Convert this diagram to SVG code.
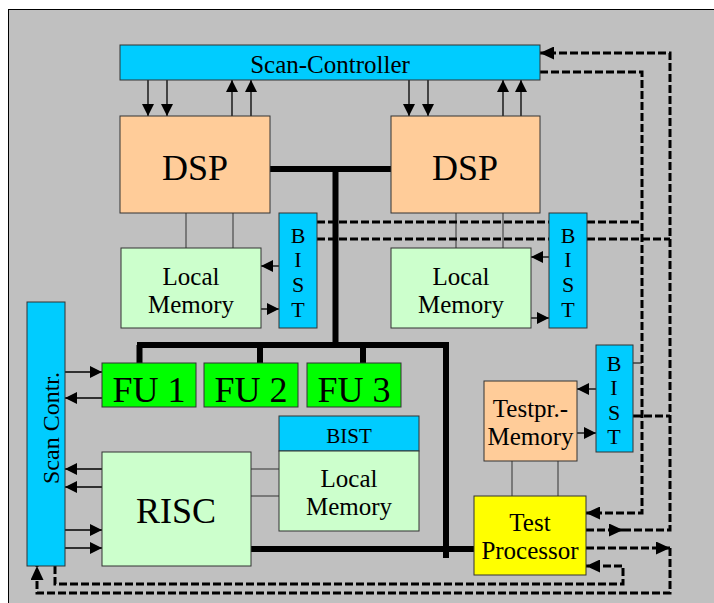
<svg xmlns="http://www.w3.org/2000/svg" width="714" height="603" viewBox="0 0 714 603">
<style>
.box{stroke:#333;stroke-width:1}
.cyan{fill:#00ccff}
.dsp{fill:#ffcc99}
.lm{fill:#ccffcc}
.fu{fill:#00ff00}
.tp{fill:#ffff00}
.t{font-family:"Liberation Serif","Times New Roman",serif;fill:#000;text-anchor:middle}
.big{font-size:36px}
.mid{font-size:25px}
.sm{font-size:22px}
.bus{stroke:#000;stroke-width:6;fill:none}
.thin{stroke:#333;stroke-width:1;fill:none}
.arr{stroke:#000;stroke-width:1.3;fill:none;marker-end:url(#a)}
.dash{stroke:#000;stroke-width:3;fill:none;stroke-dasharray:8 3}
.dasharr{stroke:#000;stroke-width:3;fill:none;stroke-dasharray:8 3;marker-end:url(#da)}
</style>
<defs>
<marker id="a" markerUnits="userSpaceOnUse" markerWidth="12" markerHeight="12" viewBox="0 0 12 12" refX="12" refY="6" orient="auto">
<path d="M0,0 L12,6 L0,12 z" fill="#000"/>
</marker>
<marker id="da" markerUnits="userSpaceOnUse" markerWidth="14" markerHeight="13" viewBox="0 0 14 13" refX="14" refY="6.5" orient="auto">
<path d="M0,0 L14,6.5 L0,13 z" fill="#000"/>
</marker>
</defs>
<rect x="8.5" y="9.5" width="710" height="600" fill="#c0c0c0" stroke="#000" stroke-width="1"/>

<g id="connectors">
<!-- buses -->
<path class="bus" d="M269,169 H391 M335.5,169 V345 M137,345 H449 M139.5,345 V363 M260,345 V363 M363,345 V363 M446,342 V558 M251,549 H474"/>
<!-- thin links -->
<path class="thin" d="M186,213 V248 M233,213 V248 M456,213 V248 M503,213 V248 M512,461 V496 M558,461 V496 M251,469 H279 M251,496 H279"/>
<!-- scan-controller arrows -->
<line class="arr" x1="148" y1="80" x2="148" y2="116"/>
<line class="arr" x1="167" y1="80" x2="167" y2="116"/>
<line class="arr" x1="232" y1="116" x2="232" y2="80"/>
<line class="arr" x1="251" y1="116" x2="251" y2="80"/>
<line class="arr" x1="409" y1="80" x2="409" y2="116"/>
<line class="arr" x1="428" y1="80" x2="428" y2="116"/>
<line class="arr" x1="503" y1="116" x2="503" y2="80"/>
<line class="arr" x1="521" y1="116" x2="521" y2="80"/>
<!-- left scan contr arrows -->
<line class="arr" x1="65" y1="372" x2="102" y2="372"/>
<line class="arr" x1="102" y1="398" x2="65" y2="398"/>
<line class="arr" x1="102" y1="469" x2="65" y2="469"/>
<line class="arr" x1="102" y1="487" x2="65" y2="487"/>
<line class="arr" x1="65" y1="530" x2="102" y2="530"/>
<line class="arr" x1="65" y1="548" x2="102" y2="548"/>
<!-- BIST arrows -->
<line class="arr" x1="279" y1="266" x2="261" y2="266"/>
<line class="arr" x1="261" y1="309" x2="279" y2="309"/>
<line class="arr" x1="549" y1="257" x2="531" y2="257"/>
<line class="arr" x1="531" y1="318" x2="549" y2="318"/>
<line class="arr" x1="596" y1="389" x2="577" y2="389"/>
<line class="arr" x1="577" y1="433" x2="596" y2="433"/>
<!-- dashed test network -->
<path class="dash" d="M317,222 H549 M587,222 H642 M317,239 H549 M587,239 H670 M633,416 H670"/>
<path class="thin" d="M633,363 H642" style="stroke:#000"/>
<path class="dasharr" d="M540,72 H642 V513 H586"/>
<path class="dasharr" d="M586,530 H623"/>
<path class="dasharr" d="M623,530 H670 V53 H540"/>
<path class="dasharr" d="M586,548 H670"/>
<path class="dasharr" d="M670,548 V593 H37 V566"/>
<path class="dasharr" d="M55,566 V584 H623 V566 H586"/>
</g>

<g id="scan-controller">
<rect class="box cyan" x="120" y="45" width="420" height="35"/>
<text class="t mid" x="330" y="73">Scan-Controller</text>
</g>
<g id="dsp1">
<rect class="box dsp" x="120" y="116" width="150" height="97"/>
<text class="t big" x="195" y="180">DSP</text>
</g>
<g id="dsp2">
<rect class="box dsp" x="391" y="116" width="149" height="97"/>
<text class="t big" x="465" y="180">DSP</text>
</g>
<g id="local-memory1">
<rect class="box lm" x="121" y="248" width="140" height="80"/>
<text class="t mid" x="191" y="285">Local</text>
<text class="t mid" x="191" y="313">Memory</text>
</g>
<g id="bist1">
<rect class="box cyan" x="279" y="213" width="38" height="115"/>
<text class="t sm" x="298" y="243">B</text>
<text class="t sm" x="298" y="267">I</text>
<text class="t sm" x="298" y="292">S</text>
<text class="t sm" x="298" y="317">T</text>
</g>
<g id="local-memory2">
<rect class="box lm" x="391" y="248" width="140" height="80"/>
<text class="t mid" x="461" y="285">Local</text>
<text class="t mid" x="461" y="313">Memory</text>
</g>
<g id="bist2">
<rect class="box cyan" x="549" y="213" width="38" height="115"/>
<text class="t sm" x="568" y="243">B</text>
<text class="t sm" x="568" y="267">I</text>
<text class="t sm" x="568" y="292">S</text>
<text class="t sm" x="568" y="317">T</text>
</g>
<g id="fu1">
<rect class="box fu" x="102" y="363" width="94" height="44"/>
<text class="t big" x="149" y="402">FU 1</text>
</g>
<g id="fu2">
<rect class="box fu" x="204" y="363" width="94" height="44"/>
<text class="t big" x="251" y="402">FU 2</text>
</g>
<g id="fu3">
<rect class="box fu" x="307" y="363" width="94" height="44"/>
<text class="t big" x="354" y="402">FU 3</text>
</g>
<g id="scan-contr">
<rect class="box cyan" x="27" y="302" width="38" height="264"/>
<text class="t" style="font-size:24px" transform="translate(59,428) rotate(-90)" x="0" y="0">Scan Contr.</text>
</g>
<g id="risc">
<rect class="box lm" x="102" y="452" width="149" height="114"/>
<text class="t big" x="176" y="523">RISC</text>
</g>
<g id="local-memory3">
<rect class="box cyan" x="279" y="416" width="140" height="35"/>
<text class="t" style="font-size:21px" x="349" y="443">BIST</text>
<rect class="box lm" x="279" y="451" width="140" height="80"/>
<text class="t mid" x="349" y="487">Local</text>
<text class="t mid" x="349" y="515">Memory</text>
</g>
<g id="testpr-memory">
<rect class="box dsp" x="484" y="381" width="93" height="80"/>
<text class="t mid" x="530.5" y="417">Testpr.-</text>
<text class="t mid" x="530.5" y="445">Memory</text>
</g>
<g id="bist3">
<rect class="box cyan" x="596" y="345" width="37" height="107"/>
<text class="t sm" x="614" y="371">B</text>
<text class="t sm" x="614" y="395">I</text>
<text class="t sm" x="614" y="420">S</text>
<text class="t sm" x="614" y="444">T</text>
</g>
<g id="test-processor">
<rect class="box tp" x="474" y="496" width="112" height="79"/>
<text class="t mid" x="530" y="531">Test</text>
<text class="t mid" x="530" y="559">Processor</text>
</g>
</svg>
